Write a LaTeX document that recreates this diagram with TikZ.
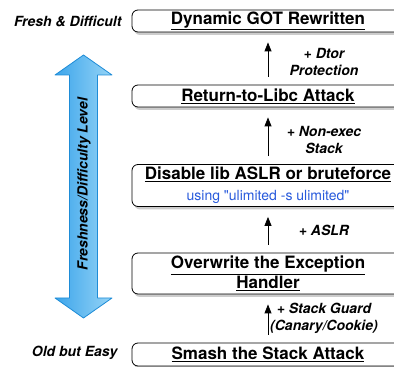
\documentclass[tikz,border=0pt]{standalone}
\usepackage{fontspec}
\setmainfont{TeX Gyre Heros}
\usetikzlibrary{shadows,arrows.meta}
\definecolor{ulblue}{RGB}{40,90,220}
\definecolor{lvldark}{RGB}{60,165,235}
\definecolor{lvllight}{RGB}{150,212,246}
\definecolor{lvledge}{RGB}{30,140,215}
\begin{document}
\begin{tikzpicture}
  [x=1pt,y=1pt,
   box/.style={draw,thick,rounded corners=6pt,fill=white,minimum width=272pt,
     drop shadow={shadow xshift=2pt,shadow yshift=-3pt,opacity=.4},
     font=\fontsize{17}{20}\selectfont\bfseries,align=center,inner sep=0pt},
   lbl/.style={font=\fontsize{14}{17}\selectfont\bfseries\itshape,align=center},
   up/.style={-{Triangle[width=7pt,length=9pt]},thick,shorten <=8pt,shorten >=10pt}]
  \useasboundingbox (0,0) rectangle (394,367);
  \clip (0,0) rectangle (394,367);

  % attack boxes, newest on top
  \node[box,minimum height=22pt] (b1) at (268,346)   {\underline{Dynamic GOT Rewritten}};
  \node[box,minimum height=22pt] (b2) at (268,271)   {\underline{Return-to-Libc Attack}};
  \node[box,minimum height=42pt] (b3) at (268,181.5) {\underline{Disable lib ASLR or bruteforce}\\[1pt]
    {\fontsize{14}{16}\selectfont\mdseries\color{ulblue}using \textquotedbl ulimited -s ulimited\textquotedbl}};
  \node[box,minimum height=41pt] (b4) at (268,93.5)  {\underline{Overwrite the Exception}\\\underline{Handler}};
  \node[box,minimum height=23pt] (b5) at (268,12.5)  {\underline{Smash the Stack Attack}};

  \foreach \from/\to in {b2/b1,b3/b2,b4/b3,b5/b4}
    \draw[up] (\from.north) -- (\to.south);

  % protections
  \node[lbl] (p1) at (324,305.5) {+ Dtor\\Protection};
  \node[lbl] (p2) at (324,227)   {+ Non-exec\\Stack};
  \node[lbl] (p3) at (324,137)   {+ ASLR};
  \node[lbl] (p4) at (324,48.5)  {+ Stack Guard\\(Canary/Cookie)};

  % level scale
  \node[lbl,anchor=east] (fresh) at (125,346) {Fresh \& Difficult};
  \node[lbl,anchor=east] (old)   at (121,14)  {Old but Easy};
  \draw[lvledge,thick,left color=lvldark,right color=lvllight,line join=round]
    (83.5,312) -- (112,292) -- (97.5,292) -- (97.5,69) -- (112,69) -- (83.5,49)
    -- (55,69) -- (69.5,69) -- (69.5,292) -- (55,292) -- cycle;
  \node[lbl,rotate=90] (lvl) at (84,183) {Freshness/Difficulty Level};

\end{tikzpicture}
\end{document}
